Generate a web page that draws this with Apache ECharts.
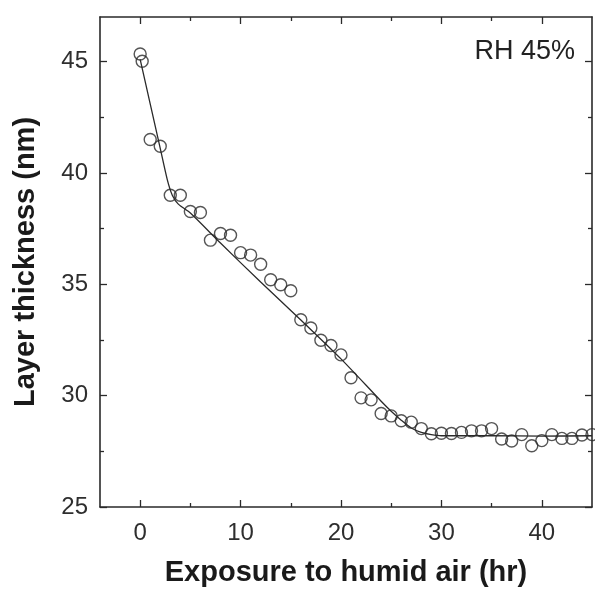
<!DOCTYPE html>
<html>
<head>
<meta charset="utf-8">
<script src="https://cdn.jsdelivr.net/npm/echarts@6/dist/echarts.min.js"></script>
<style>
  html, body { margin: 0; padding: 0; background: #fff; }
  #chart { width: 595px; height: 592px; }
</style>
</head>
<body>
<div id="chart"></div>
<script>
// Measured layer thickness (nm) vs. hours of exposure to humid air
const exposureHours = [0, 0.2, 1, 2, 3, 4, 5, 6, 7, 8, 9, 10, 11, 12, 13, 14, 15, 16, 17, 18, 19, 20,
  21, 22, 23, 24, 25, 26, 27, 28, 29, 30, 31, 32, 33, 34, 35, 36, 37, 38, 39, 40, 41, 42, 43, 44, 45];
const thickness = [45.34, 45.01, 41.5, 41.2, 39.0, 39.0, 38.27, 38.22, 36.98, 37.28, 37.2, 36.42, 36.31, 35.9,
  35.2, 34.98, 34.71, 33.41, 33.04, 32.49, 32.25, 31.83, 30.8, 29.9, 29.81, 29.2, 29.09, 28.87, 28.81,
  28.52, 28.29, 28.31, 28.3, 28.35, 28.42, 28.42, 28.52, 28.05, 27.96, 28.25, 27.75, 27.98, 28.25,
  28.08, 28.08, 28.23, 28.25];

// Fitted trend curve
const fitHours = [0, 1, 2, 2.7, 3.2, 3.8, 5, 8, 12, 16, 20, 24, 25, 26, 27, 28, 29, 30, 35, 40, 45];
const fitThickness = [45.1, 43.1, 41.1, 39.7, 39.0, 38.6, 38.2, 36.85, 35.1, 33.4, 31.65, 29.75,
  29.3, 28.9, 28.55, 28.35, 28.25, 28.2, 28.2, 28.18, 28.2];

// Axis ranges and tick positions
const xRange = [-4, 45];
const yRange = [25, 47];
const xMajorTicks = [0, 10, 20, 30, 40];
const xMinorTicks = [5, 15, 25, 35];
const yMajorTicks = [25, 30, 35, 40, 45];
const yMinorTicks = [27.5, 32.5, 37.5, 42.5];

const FONT = '"Liberation Sans", Arial, sans-serif';
const INK = '#2a2a2a';

function xAxisDef(position, ticks, len, withLabels, withLine) {
  return {
    type: 'value', position: position, min: xRange[0], max: xRange[1],
    axisLine: { show: withLine, onZero: false, lineStyle: { color: INK, width: 1.6 } },
    axisTick: { show: true, inside: true, length: len, customValues: ticks,
      lineStyle: { color: INK, width: 1.3 } },
    axisLabel: withLabels ? { show: true, customValues: ticks, margin: 14,
      fontFamily: FONT, fontSize: 24, color: '#2e2e2e' } : { show: false },
    splitLine: { show: false }
  };
}
function yAxisDef(position, ticks, len, withLabels, withLine) {
  return {
    type: 'value', position: position, min: yRange[0], max: yRange[1],
    axisLine: { show: withLine, onZero: false, lineStyle: { color: INK, width: 1.6 } },
    axisTick: { show: true, inside: true, length: len, customValues: ticks,
      lineStyle: { color: INK, width: 1.3 } },
    axisLabel: withLabels ? { show: true, customValues: ticks, margin: 12,
      fontFamily: FONT, fontSize: 24, color: '#2e2e2e' } : { show: false },
    splitLine: { show: false }
  };
}

const xMain = xAxisDef('bottom', xMajorTicks, 7, true, true);
xMain.name = 'Exposure to humid air (hr)';
xMain.nameLocation = 'middle';
xMain.nameGap = 51;
xMain.nameTextStyle = { fontFamily: FONT, fontSize: 29, fontWeight: 'bold', color: '#1a1a1a' };

const yMain = yAxisDef('left', yMajorTicks, 7, true, true);
yMain.name = 'Layer thickness (nm)';
yMain.nameLocation = 'middle';
yMain.nameGap = 60;
yMain.nameTextStyle = { fontFamily: FONT, fontSize: 29, fontWeight: 'bold', color: '#1a1a1a' };

const chart = echarts.init(document.getElementById('chart'), null, { renderer: 'canvas' });
chart.setOption({
  animation: false,
  backgroundColor: '#fff',
  grid: { left: 100, top: 17, width: 492, height: 493, containLabel: false },
  xAxis: [
    xMain,
    xAxisDef('bottom', xMinorTicks, 4, false, false),
    xAxisDef('top', xMajorTicks, 7, false, true),
    xAxisDef('top', xMinorTicks, 4, false, false)
  ],
  yAxis: [
    yMain,
    yAxisDef('left', yMinorTicks, 4, false, false),
    yAxisDef('right', yMajorTicks, 7, false, true),
    yAxisDef('right', yMinorTicks, 4, false, false)
  ],
  graphic: [{
    type: 'text', right: 20, top: 38,
    style: { text: 'RH 45%', font: '27px ' + FONT, fill: '#222' }
  }],
  series: [
    {
      type: 'line', xAxisIndex: 0, yAxisIndex: 0,
      data: fitHours.map((h, i) => [h, fitThickness[i]]),
      showSymbol: false, smooth: 0.25,
      lineStyle: { color: INK, width: 1.3 },
      silent: true, z: 2
    },
    {
      type: 'scatter', xAxisIndex: 0, yAxisIndex: 0,
      data: exposureHours.map((h, i) => [h, thickness[i]]),
      symbol: 'circle', symbolSize: 12,
      itemStyle: { color: 'rgba(0,0,0,0)', borderColor: INK, borderWidth: 1.4 },
      silent: true, z: 3
    }
  ]
});
</script>
</body>
</html>
